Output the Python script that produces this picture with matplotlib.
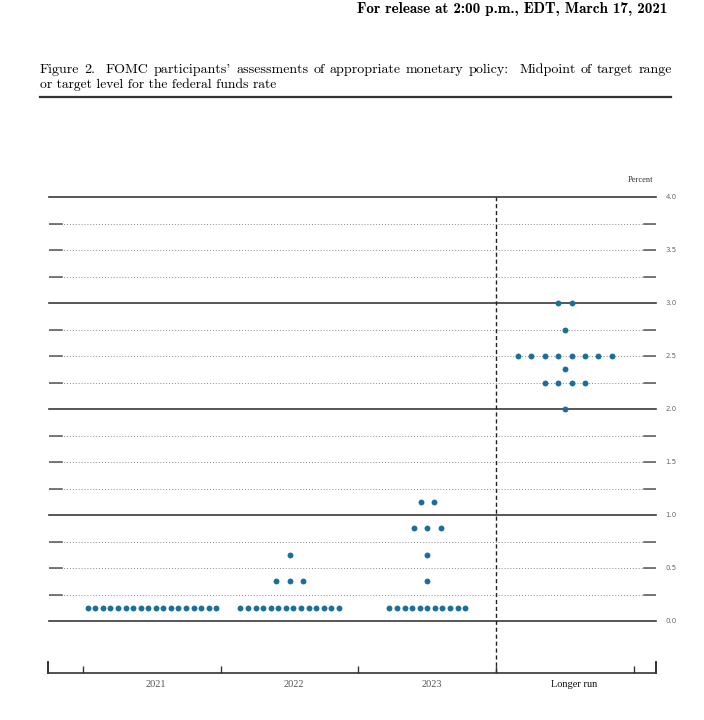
#!/usr/bin/env python3
"""
FOMC dot plot, March 2021 (Figure 2)
"""
import matplotlib
matplotlib.use('Agg')
import matplotlib.pyplot as plt
import numpy as np

# Projection periods
periods = ['2021', '2022', '2023', 'Longer run']

# Midpoint of target range (percent) and number of participants at each level
rates_2021 = [0.125]
counts_2021 = [18]

rates_2022 = [0.125, 0.375, 0.625]
counts_2022 = [14, 3, 1]

rates_2023 = [0.125, 0.375, 0.625, 0.875, 1.125]
counts_2023 = [11, 1, 1, 3, 2]

rates_lr = [2.0, 2.25, 2.375, 2.5, 2.75, 3.0]
counts_lr = [1, 4, 1, 8, 1, 2]

all_rates = [rates_2021, rates_2022, rates_2023, rates_lr]
all_counts = [counts_2021, counts_2022, counts_2023, counts_lr]

y_levels = np.arange(0, 4.01, 0.25)
y_labels = np.arange(0, 4.01, 0.5)

dot_color = '#1c6e9c'
W, H = 704, 720
serif_cm = ['cmr10', 'DejaVu Serif']

fig = plt.figure(figsize=(W / 100, H / 100), dpi=100)
renderer = fig.canvas.get_renderer()

# Header
fig.text(667 / W, 1 - 9 / H, 'For release at 2:00 p.m., EDT, March 17, 2021',
         ha='right', va='center', fontsize=10.9, family=['cmb10', 'DejaVu Serif'])

# Title, first line justified to the rule width
title_1 = "Figure 2.  FOMC participants' assessments of appropriate monetary policy:  Midpoint of target range"
title_2 = 'or target level for the federal funds rate'
words = title_1.replace('  ', ' \x00').split(' ')
x0, x1 = 40.0, 672.0
items, widths = [], []
for w in words:
    t = fig.text(0, 1 - 70 / H, w.replace('\x00', ''), ha='left', va='center',
                 fontsize=10.1, family=serif_cm)
    items.append(t)
    widths.append(t.get_window_extent(renderer).width)
weights = [2.0 if words[k + 1].startswith('\x00') else 1.0 for k in range(len(words) - 1)]
gap_unit = (x1 - x0 - sum(widths)) / sum(weights)
xpos = x0
for k, t in enumerate(items):
    t.set_x(xpos / W)
    xpos += widths[k]
    if k < len(weights):
        xpos += gap_unit * weights[k]
fig.text(40 / W, 1 - 85 / H, title_2, ha='left', va='center',
         fontsize=9.8, family=serif_cm)
fig.add_artist(plt.Line2D([40 / W, 671 / W], [1 - 97 / H, 1 - 97 / H],
                          color='#333333', lw=1.6, transform=fig.transFigure))

# Main axes, placed in pixel terms
left, right, top, bottom = 48.5, 655.7, 197, 673
ax = fig.add_axes([left / W, 1 - bottom / H, (right - left) / W, (bottom - top) / H])
ax.set_xlim(-0.752, 3.66)
ax.set_ylim(-0.49, 4.0)

for s in ['top', 'left', 'right']:
    ax.spines[s].set_visible(False)
ax.spines['bottom'].set_color('#333333')
ax.spines['bottom'].set_linewidth(1.2)

# Horizontal reference lines
for y in y_levels:
    if abs(y - round(y)) < 1e-9:
        ax.axhline(y, color='#3a3a3a', lw=1.2, zorder=1, clip_on=False)
    else:
        ax.axhline(y, color='#888888', lw=0.7, ls=(0, (1, 2)), zorder=1)
        ax.axhline(y, xmin=0, xmax=0.023, color='#555555', lw=1.1, zorder=1)
        ax.axhline(y, xmin=0.98, xmax=1, color='#555555', lw=1.1, zorder=1)

# Right-hand value labels
for y in y_labels:
    ax.annotate(f'{y:.1f}', xy=(1, y), xycoords=('axes fraction', 'data'),
                xytext=(7, 0), textcoords='offset points', ha='left', va='center',
                fontsize=5, color='#666666', family='DejaVu Sans')
ax.annotate('Percent', xy=(640 / W, 1 - 180 / H), xycoords='figure fraction',
            ha='center', va='center', fontsize=6, color='#333333',
            family='Liberation Serif')

# Separator between projections and longer run
ax.axvline(2.5, color='#222222', lw=1.0, ls=(0, (3, 2)), zorder=1)

# Dots
for i, (rates, counts) in enumerate(zip(all_rates, all_counts)):
    for r, n in zip(rates, counts):
        spacing = 0.055 if n > 8 else 0.097
        xs = i + (np.arange(n) - (n - 1) / 2) * spacing
        ax.scatter(xs, np.full(n, r), s=18, color=dot_color, zorder=3,
                   linewidths=0)

# Bottom axis ticks
x = np.arange(len(periods))
ax.set_yticks([])
ax.set_xticks(x)
ax.set_xticklabels([])
ax.tick_params(axis='x', which='major', length=0)
ax.set_xticks(np.arange(-0.5, len(periods), 1.0), minor=True)
ax.tick_params(axis='x', which='minor', direction='in', length=5, width=1.0,
               color='#333333')
for end in ax.get_xlim():
    ax.axvline(end, ymin=0, ymax=0.024, color='#222222', lw=1.3, clip_on=False)

label_shift = [3, 3, 3, 7]
for i, name in enumerate(periods):
    ax.annotate(name, xy=(i, 0), xycoords=('data', 'axes fraction'),
                xytext=(label_shift[i], -8), textcoords='offset points',
                ha='center', va='center', fontsize=7.5,
                color='#111111' if name == 'Longer run' else '#555555',
                family='Liberation Serif')

plt.savefig('out.png', dpi=100)
print("Created out.png")
